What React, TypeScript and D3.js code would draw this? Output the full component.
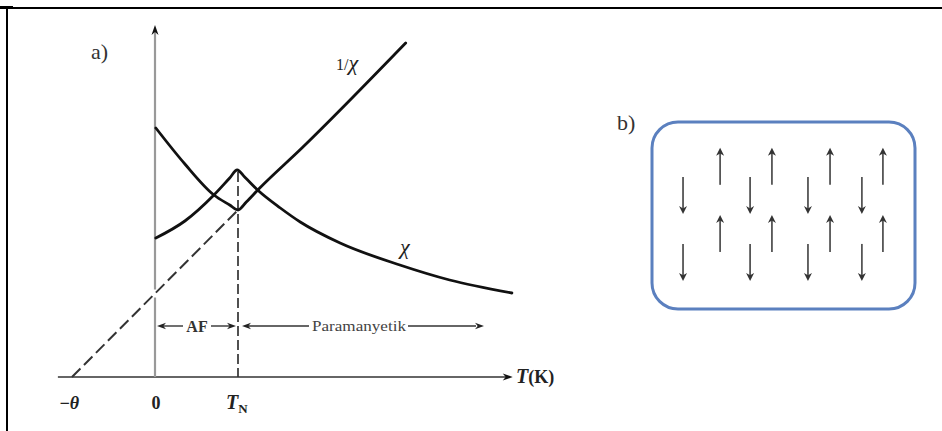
import React from "react";
import * as d3 from "d3";

// values: T in units of T_N, h in arbitrary units
const chiT = [0.01, 0.36, 0.71, 0.9, 0.99, 1.08, 1.25, 1.51, 1.75, 2.23, 2.95, 3.55, 4.3];
const chiH = [139, 156, 182, 199, 207, 200, 186, 169, 155, 134, 112, 97, 84];
const invT = [0.01, 0.36, 0.71, 0.9, 1.0, 1.1, 1.25, 1.77, 3.02];
const invH = [249, 213, 182, 172, 167, 175, 188, 229, 334];
const extrapT = [-1, 1];
const extrapH = [0, 167];
const tickLabels = ["−θ", "0", "T_N"];
const tickT = [-1, 0, 1];

// spin lattice of panel b (fractions of the box)
const spinX = [0.118, 0.259, 0.373, 0.456, 0.593, 0.677, 0.798, 0.878];
const spinDir = ["down", "up", "down", "up", "down", "up", "down", "up"];
const rowUpY = [0.237, 0.596];
const rowDownY = [0.393, 0.751];

const width = 942;
const height = 431;
const serif = "Liberation Serif";

const x = d3.scaleLinear().domain([0, 1]).range([155, 238]);
const y = d3.scaleLinear().domain([0, 350]).range([377, 27]);
const bx = d3.scaleLinear().domain([0, 1]).range([652, 915]);
const by = d3.scaleLinear().domain([0, 1]).range([122, 309]);

const line = d3
  .line<[number, number]>()
  .x((d) => x(d[0]))
  .y((d) => y(d[1]))
  .curve(d3.curveMonotoneX);

// small filled arrow head, tip at (tx,ty), pointing along angle (deg)
const head = (tx: number, ty: number, ang: number, len = 8, w = 3.2) => {
  const a = (ang * Math.PI) / 180;
  const c = Math.cos(a), s = Math.sin(a);
  const p = (u: number, v: number) => [tx - u * c - v * -s, ty - u * s - v * c];
  const pts = [p(0, 0), p(len, w), p(len * 0.7, 0), p(len, -w)];
  return "M" + pts.map((q) => q.join(",")).join("L") + "Z";
};

const App = () => {
  const chiData = chiT.map((t, i) => [t, chiH[i]] as [number, number]);
  const invData = invT.map((t, i) => [t, invH[i]] as [number, number]);
  const extrap = extrapT.map((t, i) => [t, extrapH[i]] as [number, number]);

  const x0 = x(0);
  const xN = x(1);
  const axisY = y(0);
  const gapY = y(extrapH[1] / 2);
  const xLeft = x(-1.17);
  const xRight = x(4.31);
  const yTop = y(352);
  const rowY = 326;

  const spins: { cx: number; cy: number; dir: string }[] = [];
  spinX.forEach((sx, i) => {
    const rows = spinDir[i] === "up" ? rowUpY : rowDownY;
    rows.forEach((ry) => spins.push({ cx: bx(sx), cy: by(ry), dir: spinDir[i] }));
  });

  return (
    <div style={{ position: "absolute", left: 0, top: 0 }}>
      <svg width={width} height={height} style={{ display: "block", background: "#fff" }}>
        {/* frame */}
        <line x1={6} y1={8} x2={942} y2={8} stroke="#000" strokeWidth={2} />
        <line x1={7} y1={7} x2={7} y2={431} stroke="#000" strokeWidth={2} />
        <rect x={0} y={6} width={13} height={3} fill="#000" />

        {/* axes */}
        <line x1={xLeft} y1={axisY} x2={xRight - 6} y2={axisY} stroke="#666" strokeWidth={2.2} />
        <path d={head(xRight, axisY, 0, 10, 3.5)} fill="#111" />
        <line x1={x0} y1={axisY} x2={x0} y2={gapY + 4} stroke="#999" strokeWidth={2.2} />
        <line x1={x0} y1={gapY - 4} x2={x0} y2={yTop + 6} stroke="#999" strokeWidth={2.2} />
        <path d={head(x0, yTop, -90, 10, 3.5)} fill="#111" />

        {/* dashed lines */}
        <path d={line(extrap) ?? ""} fill="none" stroke="#333" strokeWidth={2} strokeDasharray="12,5" />
        <line x1={xN} y1={y(205)} x2={xN} y2={axisY} stroke="#333" strokeWidth={1.7} strokeDasharray="10,4" />

        {/* curves */}
        <path d={line(invData) ?? ""} fill="none" stroke="#111" strokeWidth={2.8} strokeLinecap="round" />
        <path d={line(chiData) ?? ""} fill="none" stroke="#111" strokeWidth={2.8} strokeLinecap="round" />

        {/* region arrows */}
        <g stroke="#333" strokeWidth={1.4}>
          <line x1={x0 + 8} y1={rowY} x2={183} y2={rowY} />
          <line x1={211} y1={rowY} x2={xN - 8} y2={rowY} />
          <line x1={xN + 10} y1={rowY} x2={309} y2={rowY} />
          <line x1={408} y1={rowY} x2={476} y2={rowY} />
        </g>
        <g fill="#222">
          <path d={head(x0 + 2, rowY, 180, 9, 3.2)} />
          <path d={head(xN - 2, rowY, 0, 9, 3.2)} />
          <path d={head(xN + 4, rowY, 180, 9, 3.2)} />
          <path d={head(484, rowY, 0, 9, 3.2)} />
        </g>
        <text x={197} y={332} textAnchor="middle" fontFamily={serif} fontWeight="bold" fontSize={16} fill="#333">AF</text>
        <text x={312} y={331} fontFamily={serif} fontSize={15} fill="#444" textLength={94} lengthAdjust="spacingAndGlyphs">Paramanyetik</text>

        {/* labels */}
        <text x={91} y={59} fontFamily={serif} fontSize={22} fill="#333">a)</text>
        <text x={336} y={70} fontFamily={serif} fill="#222">
          <tspan fontSize={16}>1/</tspan>
          <tspan fontSize={22} fontStyle="italic">χ</tspan>
        </text>
        <text x={400} y={254} fontFamily={serif} fontSize={22} fontStyle="italic" fill="#222">χ</text>

        {tickT.map((t, i) => {
          const lab = tickLabels[i];
          if (lab === "T_N") {
            return (
              <text key={lab} x={x(t) - 12} y={409} fontFamily={serif} fontWeight="bold" fill="#222">
                <tspan fontSize={20} fontStyle="italic">T</tspan>
                <tspan fontSize={13} dy={4}>N</tspan>
              </text>
            );
          }
          return (
            <text key={lab} x={x(t) + (t < 0 ? -3 : 1)} y={409} textAnchor="middle" fontFamily={serif}
              fontWeight="bold" fontStyle={t < 0 ? "italic" : "normal"} fontSize={18} fill="#222">
              {lab}
            </text>
          );
        })}
        <text x={516} y={383} fontFamily={serif} fontWeight="bold" fill="#222">
          <tspan fontSize={20} fontStyle="italic">T</tspan>
          <tspan fontSize={18}>(K)</tspan>
        </text>

        {/* panel b */}
        <text x={617} y={130} fontFamily={serif} fontSize={22} fill="#333">b)</text>
        <rect x={bx(0)} y={by(0)} width={bx(1) - bx(0)} height={by(1) - by(0)} rx={26} ry={26}
          fill="none" stroke="#5b80bf" strokeWidth={3} />
        {spins.map((s, i) => {
          const half = 18.5;
          const tipY = s.dir === "up" ? s.cy - half : s.cy + half;
          const tailY = s.dir === "up" ? s.cy + half : s.cy - half;
          return (
            <g key={i}>
              <line x1={s.cx} y1={tailY} x2={s.cx} y2={s.dir === "up" ? tipY + 5 : tipY - 5} stroke="#555" strokeWidth={1.8} />
              <path d={head(s.cx, tipY, s.dir === "up" ? -90 : 90, 8, 4)} fill="#333" />
            </g>
          );
        })}
      </svg>
    </div>
  );
};

export default App;
